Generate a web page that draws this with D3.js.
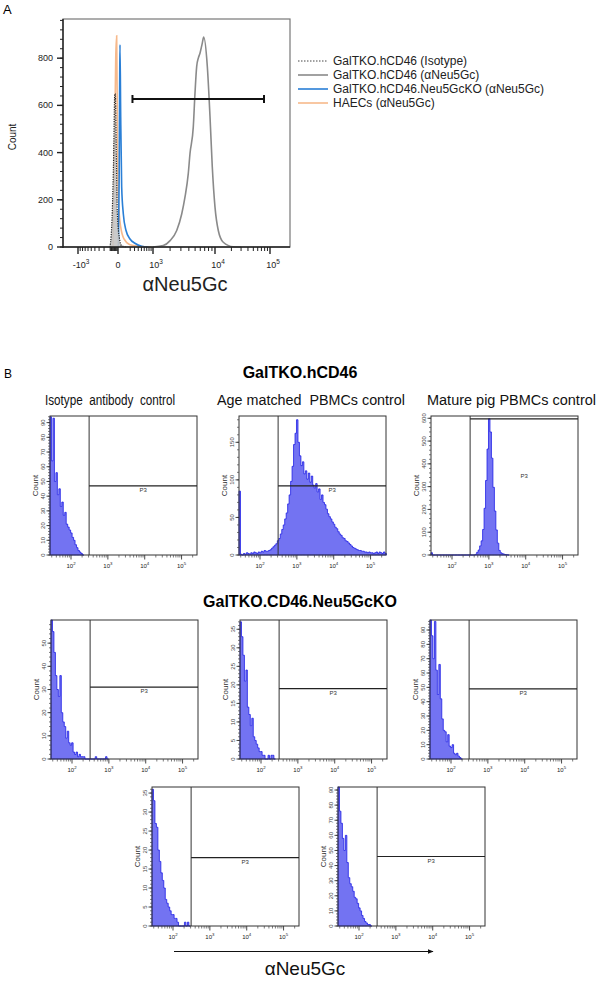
<!DOCTYPE html>
<html>
<head>
<meta charset="utf-8">
<title>Neu5Gc expression - flow cytometry</title>
<script src="https://d3js.org/d3.v7.min.js"></script>
<style>
  body { margin: 0; background: #fff; }
  svg { font-family: "Liberation Sans", Arial, sans-serif; }
</style>
</head>
<body>
<svg id="fig" width="600" height="982"></svg>
<script>
// ---------- panel A : overlaid histograms, [fluorescence, count]
var isoA = [[-102,0],[-70,150],[-51,400],[-39,640],[-31,650],[-19,400],[-8,150],[17,40],[50,5],[120,0]];
var grayA = [[1000,0],[1530,6],[2000,27],[2570,70],[3090,140],[3480,211],[3920,311],[4170,396],[4690,509],
             [4980,651],[5290,765],[5600,800],[5940,821],[6440,864],[6770,889],[7670,765],[8420,552],
             [9110,339],[10000,169],[11500,70],[14200,20],[21600,1],[30000,0]];
var blueA = [[5,0],[15,300],[22,700],[26,857],[36,550],[50,254],[75,140],[120,70],[196,34],[308,16],[510,3],[770,0]];
var orangeA = [[-60,0],[-38,480],[-26,800],[-15,895],[-6,450],[6,197],[36,85],[86,34],[196,10],[453,3],[900,0]];
var legendA = ["GalTKO.hCD46 (Isotype)", "GalTKO.hCD46 (\u03b1Neu5Gc)",
               "GalTKO.hCD46.Neu5GcKO (\u03b1Neu5Gc)", "HAECs (\u03b1Neu5Gc)"];
var xTicksA = [-1000, 0, 1000, 10000, 100000];
var xTickBaseA = ["-10", "0", "10", "10", "10"];
var xTickExpA = ["3", "", "3", "4", "5"];
var yTicksA = [0, 200, 400, 600, 800];
var yMaxA = 966;
var gateA = [250, 78000];
var gateCountA = 627;

// ---------- panel B : FACSDiva histograms, counts per 0.04-decade bin from 10^1.43
var logMinB = 1.43, logMaxB = 5.4185, binB = 0.04;
var isotypeB = [94,64,93,50,56,41,45,33,36,27,29,21,19,17,15,12,10,7,5,3,2,1,0];
var ageMatchedB = [85,1,0,2,1,3,2,1,3,2,4,3,2,4,3,5,4,6,5,5,6,7,9,11,13,15,19,22,28,34,40,48,56,68,80,98,
                   118,147,162,180,150,132,119,124,108,112,101,109,97,105,93,89,95,84,88,74,80,70,67,61,
                   55,51,48,44,41,37,35,31,28,26,23,22,19,18,16,14,12,10,9,8,7,6,6,5,5,4,4,3,4,3,3,2,3,4,2,4,3,2,4,2];
var maturePigB = [10,0,0,0,0,0,0,0,0,0,0,0,0,0,0,0,0,0,0,0,0,0,0,0,0,0,0,0,0,0,3,12,22,40,62,112,205,327,465,
                  598,540,425,297,193,110,52,20,10,6,4,2,1,0];
var koRow2aB = [60,55,46,36,30,27,36,20,16,14,9,12,7,6,7,3,2,3,1,2,1,1,1,0,0,0,0,0,0,0,1,0,0,0,0,0,0,1,0];
var koRow2bB = [37,33,28,21,24,14,12,9,11,6,5,4,3,2,2,1,1,0,0,1,0,1,1,0];
var koRow2cB = [97,86,70,96,62,45,66,42,28,20,19,12,17,9,8,10,4,3,4,2,1,0];
var koRow3aB = [36,33,27,26,20,17,14,12,10,7,6,5,4,3,3,2,2,1,0,0,0,0,1,0,1,0];
var koRow3bB = [92,76,68,58,50,60,42,32,28,26,23,19,18,15,12,10,7,5,3,2,1,1,0];
var countsB = [isotypeB, ageMatchedB, maturePigB, koRow2aB, koRow2bB, koRow2cB, koRow3aB, koRow3bB];
var yMaxB = [94.5, 185, 610, 60, 37.5, 97, 36.6, 92];
var yStepB = [10, 50, 100, 10, 5, 10, 5, 10];
var gateXB = 310;
var gateYB = [47, 92, 597, 31, 19, 49, 18, 46];
var titlesB = ["GalTKO.hCD46", "GalTKO.CD46.Neu5GcKO"];
var subtitlesB = ["Isotype  antibody  control", "Age matched  PBMCs control", "Mature pig PBMCs control"];
var xTicksB = [100, 1000, 10000, 100000];

var svg = d3.select("#fig");

function supText(g, x, y, base, exp, size, anchor) {
    var t = g.append("text").attr("x", x).attr("y", y)
        .attr("font-size", size).attr("text-anchor", anchor || "middle").attr("fill", "#222");
    t.append("tspan").text(base);
    if (exp) {
        t.append("tspan").attr("dy", -size * 0.45).attr("font-size", size * 0.72).text(exp);
    }
    return t;
}

// =================== PANEL A ===================
svg.append("text").attr("x", 3).attr("y", 14).attr("font-size", 13).text("A");

var xA = d3.scaleSymlog().constant(300).domain(xTicksA).range([78, 118, 153, 215, 270]);
var yA = d3.scaleLinear().domain([0, yMaxA]).range([247, 19]);
var gA = svg.append("g");

var lineA = d3.line().x(function(d){ return xA(d[0]); }).y(function(d){ return yA(d[1]); })
    .curve(d3.curveMonotoneX);
var areaA = d3.area().x(function(d){ return xA(d[0]); }).y0(yA(0)).y1(function(d){ return yA(d[1]); })
    .curve(d3.curveMonotoneX);

gA.append("path").datum(orangeA).attr("d", lineA).attr("fill", "none")
    .attr("stroke", "#f7b98b").attr("stroke-width", 1.6);
gA.append("path").datum(blueA).attr("d", lineA).attr("fill", "none")
    .attr("stroke", "#2a7fd6").attr("stroke-width", 1.6);
gA.append("path").datum(grayA).attr("d", lineA).attr("fill", "none")
    .attr("stroke", "#8a8a8a").attr("stroke-width", 1.6);
gA.append("path").datum(isoA).attr("d", areaA).attr("fill", "#c4c4c4").attr("opacity", 0.9);
gA.append("path").datum(isoA).attr("d", lineA).attr("fill", "none")
    .attr("stroke", "#222").attr("stroke-width", 1.2).attr("stroke-dasharray", "1.2,1.2");

// gate bar
var gy = yA(gateCountA);
gA.append("line").attr("x1", xA(gateA[0])).attr("x2", xA(gateA[1])).attr("y1", gy).attr("y2", gy)
    .attr("stroke", "#111").attr("stroke-width", 2);
gateA.forEach(function(v){
    gA.append("line").attr("x1", xA(v)).attr("x2", xA(v)).attr("y1", gy - 4).attr("y2", gy + 4)
        .attr("stroke", "#111").attr("stroke-width", 2);
});

// frame
gA.append("rect").attr("x", 63).attr("y", 19).attr("width", 227).attr("height", 228)
    .attr("fill", "none").attr("stroke", "#777").attr("stroke-width", 1.2);
gA.append("line").attr("x1", 63).attr("x2", 63).attr("y1", 19).attr("y2", 248).attr("stroke", "#222").attr("stroke-width", 1.4);
gA.append("line").attr("x1", 63).attr("x2", 290).attr("y1", 247).attr("y2", 247).attr("stroke", "#222").attr("stroke-width", 1.4);

// y axis
d3.range(0, yMaxA, 40).forEach(function(v){
    gA.append("line").attr("x1", 60).attr("x2", 63).attr("y1", yA(v)).attr("y2", yA(v))
        .attr("stroke", "#222").attr("stroke-width", 1);
});
yTicksA.forEach(function(v){
    gA.append("line").attr("x1", 57).attr("x2", 63).attr("y1", yA(v)).attr("y2", yA(v))
        .attr("stroke", "#222").attr("stroke-width", 1.4);
    gA.append("text").attr("x", 53).attr("y", yA(v) + 3).attr("text-anchor", "end")
        .attr("font-size", 9).attr("fill", "#222").text(v);
});
gA.append("text").attr("transform", "translate(16,137) rotate(-90)").attr("text-anchor", "middle")
    .attr("font-size", 10).attr("fill", "#222").text("Count");

// x axis
var minorA = [].concat(
    d3.range(-900, 0, 100), d3.range(-90, 0, 10),
    d3.range(200, 1000, 100), d3.range(2000, 10000, 1000), d3.range(20000, 100000, 10000));
minorA.forEach(function(v){
    gA.append("line").attr("x1", xA(v)).attr("x2", xA(v)).attr("y1", 247).attr("y2", 251)
        .attr("stroke", "#222").attr("stroke-width", 1);
});
xTicksA.forEach(function(v, i){
    gA.append("line").attr("x1", xA(v)).attr("x2", xA(v)).attr("y1", 247).attr("y2", 254)
        .attr("stroke", "#222").attr("stroke-width", 1.4);
    supText(gA, xA(v) + (xTickExpA[i] ? 3 : 0), 268, xTickBaseA[i], xTickExpA[i], 9);
});
gA.append("text").attr("x", 185).attr("y", 291).attr("text-anchor", "middle")
    .attr("font-size", 20).attr("fill", "#222").text("\u03b1Neu5Gc");

// legend
var legColors = ["#444", "#8a8a8a", "#2a7fd6", "#f7b98b"];
legendA.forEach(function(name, i){
    var ly = 61 + i * 14;
    var ln = gA.append("line").attr("x1", 298).attr("x2", 328).attr("y1", ly).attr("y2", ly)
        .attr("stroke", legColors[i]).attr("stroke-width", i === 0 ? 1 : 1.6);
    if (i === 0) ln.attr("stroke-dasharray", "1.5,1.5");
    gA.append("text").attr("x", 333).attr("y", ly + 4).attr("font-size", 12).attr("fill", "#222").text(name);
});

// =================== PANEL B ===================
svg.append("text").attr("x", 4).attr("y", 378).attr("font-size", 12).text("B");
svg.append("text").attr("x", 300).attr("y", 378).attr("text-anchor", "middle")
    .attr("font-size", 16).attr("font-weight", "bold").text(titlesB[0]);
svg.append("text").attr("x", 300).attr("y", 607).attr("text-anchor", "middle")
    .attr("font-size", 16).attr("font-weight", "bold").text(titlesB[1]);
var subX = [45, 217, 427], subW = [130, 188, 169];
subX.forEach(function(sx, i){
    svg.append("text").attr("x", sx).attr("y", 405).attr("style", "white-space:pre")
        .attr("textLength", subW[i]).attr("lengthAdjust", "spacingAndGlyphs")
        .attr("font-size", 14).attr("fill", "#111").text(subtitlesB[i]);
});

var posB = [[50,416],[239,416],[431,416],[51,620],[240,620],[430,620],[152,787],[338,787]];
var wB = 147, hB = 139;

function drawHist(i) {
    var g = svg.append("g").attr("transform", "translate(" + posB[i][0] + "," + posB[i][1] + ")");
    var x = d3.scaleLog().domain([Math.pow(10, logMinB), Math.pow(10, logMaxB)]).range([0, wB]);
    var y = d3.scaleLinear().domain([0, yMaxB[i]]).range([hB, 0]);
    var counts = countsB[i];
    var pts = counts.map(function(c, k){ return [Math.pow(10, logMinB + k * binB), c]; });
    pts.push([Math.pow(10, logMinB + counts.length * binB), 0]);

    var area = d3.area().curve(d3.curveStepAfter)
        .x(function(d){ return x(d[0]); }).y0(hB)
        .y1(function(d){ return y(Math.min(d[1], yMaxB[i])); });
    g.append("path").datum(pts).attr("d", area)
        .attr("fill", "#7373f2").attr("stroke", "#1f1fe6").attr("stroke-width", 0.8);

    // frame
    g.append("rect").attr("width", wB).attr("height", hB)
        .attr("fill", "none").attr("stroke", "#333").attr("stroke-width", 1);

    // gate
    var gx = x(gateXB), gyy = y(gateYB[i]);
    g.append("line").attr("x1", gx).attr("x2", gx).attr("y1", 0).attr("y2", hB)
        .attr("stroke", "#333").attr("stroke-width", 1);
    g.append("line").attr("x1", gx).attr("x2", wB).attr("y1", gyy).attr("y2", gyy)
        .attr("stroke", "#222").attr("stroke-width", 1.2);
    g.append("text").attr("x", (gx + wB) / 2).attr("y", i === 2 ? 62 : gyy + 6)
        .attr("text-anchor", "middle").attr("font-size", 6).attr("fill", "#333").text("P3");

    // y axis
    var st = yStepB[i];
    d3.range(0, yMaxB[i], st / 5).forEach(function(v){
        g.append("line").attr("x1", -2).attr("x2", 0).attr("y1", y(v)).attr("y2", y(v))
            .attr("stroke", "#444").attr("stroke-width", 0.7);
    });
    d3.range(0, yMaxB[i], st).forEach(function(v){
        g.append("line").attr("x1", -3.5).attr("x2", 0).attr("y1", y(v)).attr("y2", y(v))
            .attr("stroke", "#333").attr("stroke-width", 0.9);
        g.append("text").attr("transform", "translate(-5," + y(v) + ") rotate(-90)")
            .attr("text-anchor", "middle").attr("font-size", 6).attr("fill", "#444").text(v);
    });
    g.append("text").attr("transform", "translate(-12," + (hB / 2) + ") rotate(-90)")
        .attr("text-anchor", "middle").attr("font-size", 8).attr("fill", "#333").text("Count");

    // x axis
    for (var d = 1; d <= 5; d++) {
        for (var m = 2; m <= 9; m++) {
            var v = m * Math.pow(10, d);
            if (v < x.domain()[0] || v > x.domain()[1]) continue;
            g.append("line").attr("x1", x(v)).attr("x2", x(v)).attr("y1", hB).attr("y2", hB + 2.5)
                .attr("stroke", "#444").attr("stroke-width", 0.7);
        }
    }
    xTicksB.forEach(function(v){
        g.append("line").attr("x1", x(v)).attr("x2", x(v)).attr("y1", hB).attr("y2", hB + 4.5)
            .attr("stroke", "#333").attr("stroke-width", 0.9);
        supText(g, x(v), hB + 13, "10", String(Math.round(Math.log10(v))), 6);
    });
}
countsB.forEach(function(c, i){ drawHist(i); });

// shared axis arrow and label
svg.append("defs").append("marker").attr("id", "arrow").attr("viewBox", "0 0 10 10")
    .attr("refX", 9).attr("refY", 5).attr("markerWidth", 6).attr("markerHeight", 6)
    .attr("orient", "auto").append("path").attr("d", "M0,1 L10,5 L0,9 z").attr("fill", "#111");
svg.append("line").attr("x1", 174).attr("x2", 433).attr("y1", 951.5).attr("y2", 951.5)
    .attr("stroke", "#111").attr("stroke-width", 1).attr("marker-end", "url(#arrow)");
svg.append("text").attr("x", 305).attr("y", 975).attr("text-anchor", "middle")
    .attr("font-size", 19).attr("fill", "#111").text("\u03b1Neu5Gc");
</script>
</body>
</html>
